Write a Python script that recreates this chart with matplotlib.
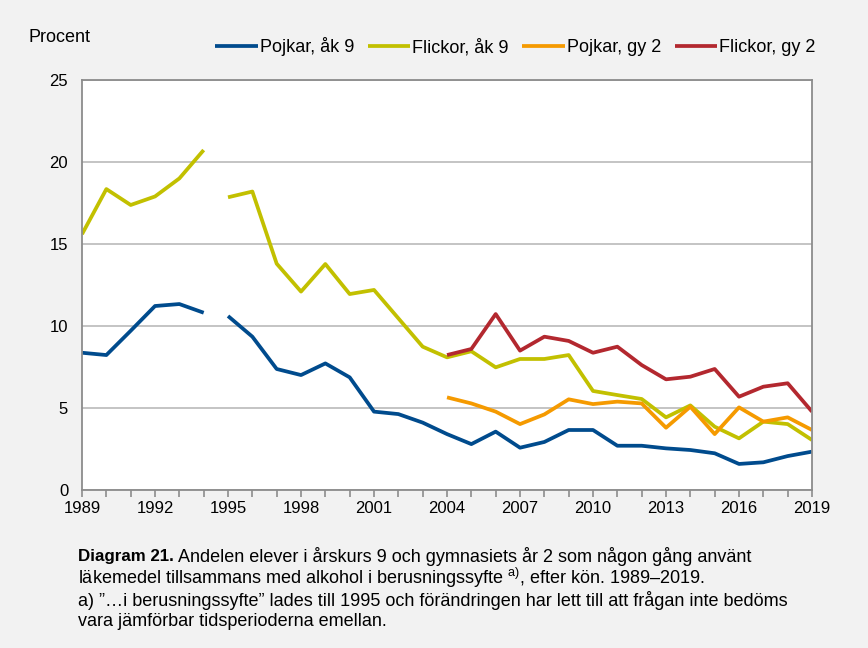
import numpy as np
import matplotlib.pyplot as plt
from matplotlib.ticker import MultipleLocator

plt.rcParams['font.family'] = ['Liberation Sans', 'DejaVu Sans']
plt.rcParams['mathtext.fontset'] = 'custom'
plt.rcParams['mathtext.rm'] = 'Liberation Sans'

years = np.arange(1989, 2020)
nan = np.nan

# Pojkar, åk 9 (no value shown between 1994 and 1995 -> break in line)
pojkar_ak9 = [8.37, 8.23, 9.71, 11.22, 11.34, 10.81,
              10.61, 9.35, 7.38, 7.01, 7.72, 6.87, 4.78, 4.63, 4.11, 3.41,
              2.80, 3.56, 2.58, 2.93, 3.66, 3.66, 2.70, 2.70, 2.54, 2.44,
              2.24, 1.59, 1.69, 2.07, 2.34]
flickor_ak9 = [15.6, 18.35, 17.38, 17.9, 19.0, 20.73,
               17.85, 18.2, 13.8, 12.1, 13.78, 11.95, 12.2, 10.47, 8.74, 8.09,
               8.46, 7.48, 7.99, 7.99, 8.23, 6.04, 5.79, 5.55, 4.43, 5.16,
               3.86, 3.15, 4.17, 4.02, 3.05]
pojkar_gy2 = [nan] * 15 + [5.65, 5.28, 4.78, 4.02, 4.61, 5.53, 5.24, 5.39, 5.28,
                           3.80, 5.08, 3.41, 5.04, 4.17, 4.43, 3.66]
flickor_gy2 = [nan] * 15 + [8.23, 8.60, 10.73, 8.50, 9.35, 9.09, 8.37, 8.74, 7.62,
                            6.75, 6.91, 7.38, 5.69, 6.30, 6.51, 4.78]

series = [
    ('Pojkar, åk 9', pojkar_ak9, '#004b8d'),
    ('Flickor, åk 9', flickor_ak9, '#c2c000'),
    ('Pojkar, gy 2', pojkar_gy2, '#f59a00'),
    ('Flickor, gy 2', flickor_gy2, '#b3282f'),
]

bg = '#f2f2f2'
fig = plt.figure(figsize=(8.68, 6.48), dpi=100, facecolor=bg)
ax = fig.add_axes([0.0945, 0.2438, 0.841, 0.6327])
ax.set_facecolor('white')

for label, vals, color in series:
    v = np.array(vals, dtype=float)
    # split at the 1994/1995 change of question wording
    early = years <= 1994
    late = years >= 1995
    ax.plot(years[early], v[early], color=color, lw=2.7, solid_capstyle='butt',
            label=label)
    ax.plot(years[late], v[late], color=color, lw=2.7, solid_capstyle='butt')

ax.set_xlim(1989, 2019)
ax.set_ylim(0, 25)
ax.xaxis.set_major_locator(MultipleLocator(3))
ax.xaxis.set_minor_locator(MultipleLocator(1))
ax.yaxis.set_major_locator(MultipleLocator(5))
ax.grid(axis='y', color='#bfbfbf', lw=1.3)
ax.set_axisbelow(True)
for s in ax.spines.values():
    s.set_color('#8c8c8c')
    s.set_linewidth(1.3)
ax.tick_params(axis='x', which='both', direction='out', length=5, color='#8c8c8c',
               width=1.2, labelsize=12, pad=3)
ax.tick_params(axis='y', length=0, labelsize=12, pad=10)

fig.text(28 / 868, 1 - 37 / 648, 'Procent', fontsize=13, va='center', ha='left')

handles, labels = ax.get_legend_handles_labels()
fig.legend(handles, labels, loc='center left', bbox_to_anchor=(208 / 868, 1 - 47 / 648),
           ncol=4, frameon=False, fontsize=13, handlelength=2.35, handletextpad=0.12,
           columnspacing=0.75, borderaxespad=0)

# caption
x0 = 78 / 868
t = fig.text(x0, 1 - 556 / 648, 'Diagram 21.', fontsize=12.2, fontweight='bold', va='center')
ax.annotate(' Andelen elever i årskurs 9 och gymnasiets år 2 som någon gång använt',
            xy=(1, 0.5), xycoords=t, va='center', fontsize=13)
fig.text(x0, 1 - 578 / 648,
         'läkemedel tillsammans med alkohol i berusningssyfte $^{\\mathrm{a)}}$, efter kön. 1989–2019.',
         fontsize=13, va='center')
fig.text(x0, 1 - 600 / 648,
         'a) ”…i berusningssyfte” lades till 1995 och förändringen har lett till att frågan inte bedöms',
         fontsize=13, va='center')
fig.text(x0, 1 - 621 / 648, 'vara jämförbar tidsperioderna emellan.', fontsize=13, va='center')

fig.savefig('out.png', dpi=100, facecolor=bg)
